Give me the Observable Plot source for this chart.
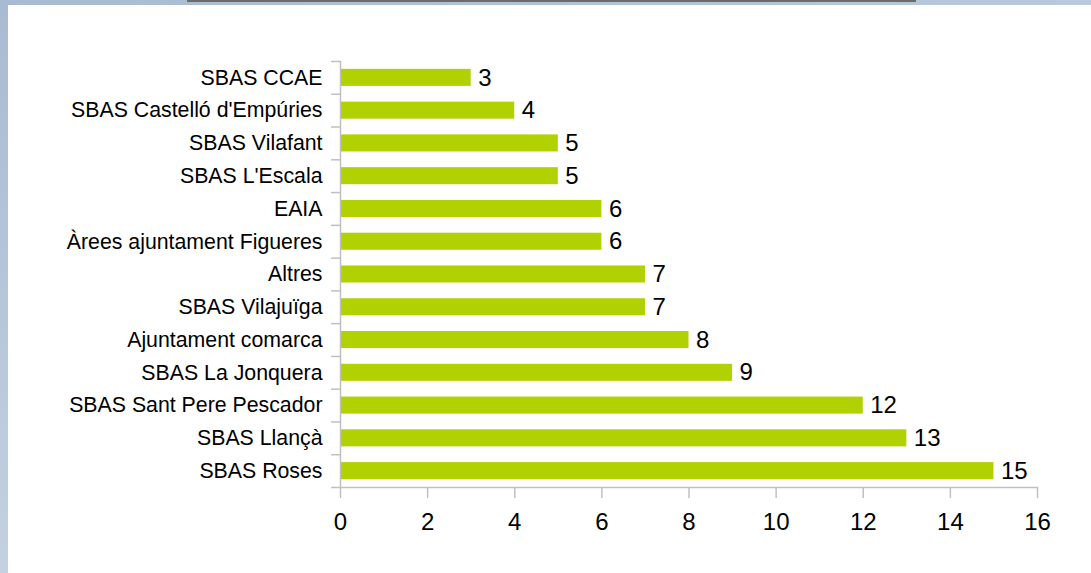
<!DOCTYPE html>
<html>
<head>
<meta charset="utf-8">
<script src="https://cdn.jsdelivr.net/npm/d3@7"></script>
<script src="https://cdn.jsdelivr.net/npm/@observablehq/plot@0.6"></script>
<style>
  html, body { margin: 0; padding: 0; }
  body { width: 1091px; height: 573px; overflow: hidden; position: relative;
         background: linear-gradient(to bottom, #a8bbd2 0%, #c3d1e1 100%); font-family: "Liberation Sans", Arial, sans-serif; }
  #topstrip { position: absolute; left: 0; top: 0; width: 1091px; height: 5px;
              background: linear-gradient(to right, #a8bbd2 0%, #b9c9db 100%); }
  #topline { position: absolute; left: 187px; top: 0; width: 729px; height: 2px; background: #6b6b6b; }
  #panel { position: absolute; left: 8px; top: 5px; width: 1083px; height: 568px; background: #ffffff; }
  #chart { position: absolute; left: 0; top: 0; }
</style>
</head>
<body>
<div id="topstrip"></div>
<div id="topline"></div>
<div id="panel"></div>
<div id="chart"></div>
<script>
const categories = [
  "SBAS CCAE",
  "SBAS Castelló d'Empúries",
  "SBAS Vilafant",
  "SBAS L'Escala",
  "EAIA",
  "Àrees ajuntament Figueres",
  "Altres",
  "SBAS Vilajuïga",
  "Ajuntament comarca",
  "SBAS La Jonquera",
  "SBAS Sant Pere Pescador",
  "SBAS Llançà",
  "SBAS Roses"
];
const values = [3, 4, 5, 5, 6, 6, 7, 7, 8, 9, 12, 13, 15];
const xTicks = [0, 2, 4, 6, 8, 10, 12, 14, 16];

const data = categories.map((c, i) => ({category: c, value: values[i]}));

const W = 1091, H = 573;
const mTop = 61, mBottom = 86, mLeft = 340, mRight = 54;
const step = (H - mTop - mBottom) / categories.length;
const axisColor = "#c0c0c0";
const font = "Liberation Sans, Arial, sans-serif";

const chart = Plot.plot({
  width: W,
  height: H,
  marginTop: mTop,
  marginBottom: mBottom,
  marginLeft: mLeft,
  marginRight: mRight,
  style: {background: "transparent", fontFamily: font, fontSize: "21.3px", color: "#000"},
  x: {domain: [0, 16], ticks: xTicks},
  y: {domain: categories, paddingInner: 0.48, paddingOuter: 0.24, round: false},
  marks: [
    Plot.barX(data, {x: "value", y: "category", fill: "#b1d100"}),
    Plot.text(data, {x: "value", y: "category", text: d => String(d.value), textAnchor: "start", dx: 7, fontSize: 24, fill: "#000"}),
    Plot.frame({anchor: "left", stroke: axisColor, strokeWidth: 1.5}),
    Plot.frame({anchor: "bottom", stroke: axisColor, strokeWidth: 1.5}),
    Plot.axisY({tickSize: 0, tickPadding: 18, fontSize: 21.3, fill: "#000", label: null}),
    Plot.axisY({tickSize: 9, text: null, stroke: axisColor, strokeWidth: 1.5, dy: -step / 2, label: null}),
    Plot.axisY({ticks: [categories[categories.length - 1]], tickSize: 9, text: null, stroke: axisColor, strokeWidth: 1.5, dy: step / 2, label: null}),
    Plot.axisX({ticks: xTicks, tickSize: 11, tickPadding: 14, fontSize: 24, fill: "#000", stroke: axisColor, strokeWidth: 1.5, label: null})
  ]
});
document.getElementById("chart").appendChild(chart);
</script>
</body>
</html>
